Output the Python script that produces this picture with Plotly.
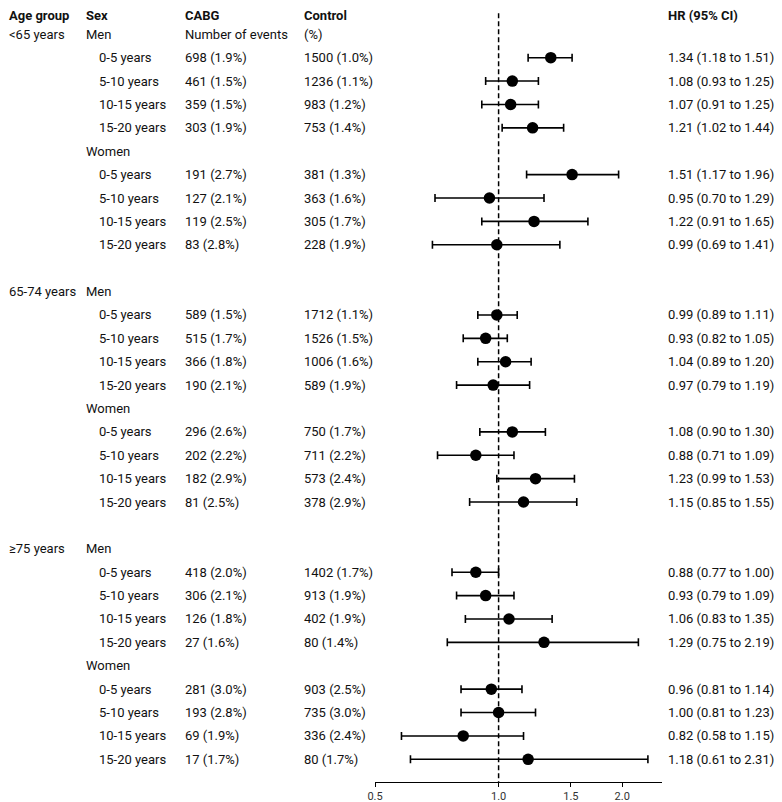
import plotly.graph_objects as go
import numpy as np

age_groups = ["<65 years", "65-74 years", "≥75 years"]
sexes = ["Men", "Women"]
periods = ["0-5 years", "5-10 years", "10-15 years", "15-20 years"]

cabg_events = [698, 461, 359, 303, 191, 127, 119, 83,
               589, 515, 366, 190, 296, 202, 182, 81,
               418, 306, 126, 27, 281, 193, 69, 17]
cabg_pct = [1.9, 1.5, 1.5, 1.9, 2.7, 2.1, 2.5, 2.8,
            1.5, 1.7, 1.8, 2.1, 2.6, 2.2, 2.9, 2.5,
            2.0, 2.1, 1.8, 1.6, 3.0, 2.8, 1.9, 1.7]
control_events = [1500, 1236, 983, 753, 381, 363, 305, 228,
                  1712, 1526, 1006, 589, 750, 711, 573, 378,
                  1402, 913, 402, 80, 903, 735, 336, 80]
control_pct = [1.0, 1.1, 1.2, 1.4, 1.3, 1.6, 1.7, 1.9,
               1.1, 1.5, 1.6, 1.9, 1.7, 2.2, 2.4, 2.9,
               1.7, 1.9, 1.9, 1.4, 2.5, 3.0, 2.4, 1.7]
hr = [1.34, 1.08, 1.07, 1.21, 1.51, 0.95, 1.22, 0.99,
      0.99, 0.93, 1.04, 0.97, 1.08, 0.88, 1.23, 1.15,
      0.88, 0.93, 1.06, 1.29, 0.96, 1.00, 0.82, 1.18]
hr_lo = [1.18, 0.93, 0.91, 1.02, 1.17, 0.70, 0.91, 0.69,
         0.89, 0.82, 0.89, 0.79, 0.90, 0.71, 0.99, 0.85,
         0.77, 0.79, 0.83, 0.75, 0.81, 0.81, 0.58, 0.61]
hr_hi = [1.51, 1.25, 1.25, 1.44, 1.96, 1.29, 1.65, 1.41,
         1.11, 1.05, 1.20, 1.19, 1.30, 1.09, 1.53, 1.55,
         1.00, 1.09, 1.35, 2.19, 1.14, 1.23, 1.15, 2.31]

headers = ["Age group", "Sex", "CABG", "Control", "HR (95% CI)"]
tick_vals = [0.5, 1.0, 1.5, 2.0]
tick_text = ["0.5", "1.0", "1.5", "2.0"]

# page has an 8px body margin, so figure coords = page coords - 8
W, H = 774, 794
FONT = "Roboto"
FS = 13
TXT = "#111111"

col_x = {"age": 0, "sex": 77, "period": 90, "cabg": 176, "control": 295, "hr": 659}
HEADER_ROW = 0.2

row_y = []
ann = []
def add(x, y, text, bold=False, size=FS):
    ann.append(dict(x=x / W, y=y, xref="paper", yref="y", text=f"<b>{text}</b>" if bold else text,
                    showarrow=False, xanchor="left", yanchor="middle", align="left",
                    font=dict(family=FONT, size=size, color=TXT), borderpad=0))

for i, h in enumerate(headers):
    key = ["age", "sex", "cabg", "control", "hr"][i]
    add(col_x[key], HEADER_ROW, h, bold=True)

k = 0
for g, age in enumerate(age_groups):
    base = 1 + 11 * g
    add(col_x["age"], base, age.replace("<", "&lt;"))
    for s, sex in enumerate(sexes):
        srow = base + 5 * s
        add(col_x["sex"], srow, sex)
        if g == 0 and s == 0:
            add(col_x["cabg"], srow, "Number of events")
            add(col_x["control"], srow, "(%)")
        for p, per in enumerate(periods):
            r = srow + 1 + p
            row_y.append(r)
            add(col_x["period"], r, per)
            add(col_x["cabg"], r, f"{cabg_events[k]} ({cabg_pct[k]:.1f}%)")
            add(col_x["control"], r, f"{control_events[k]} ({control_pct[k]:.1f}%)")
            add(col_x["hr"], r, f"{hr[k]:.2f} ({hr_lo[k]:.2f} to {hr_hi[k]:.2f})")
            k += 1

hr_a = np.array(hr)
err_plus = np.array(hr_hi) - hr_a
err_minus = hr_a - np.array(hr_lo)

fig = go.Figure()
fig.add_trace(go.Scatter(
    x=hr, y=row_y, mode="markers",
    marker=dict(color="black", size=11.5),
    error_x=dict(type="data", array=err_plus, arrayminus=err_minus, symmetric=False,
                 color="black", thickness=1.6, width=4),
    hoverinfo="skip", showlegend=False, cliponaxis=False,
))

y_top, y_bot = -0.124, 32.97
fig.add_shape(type="line", xref="x", yref="y", x0=1, x1=1, y0=0.1, y1=y_bot,
              line=dict(color="black", width=1.5, dash="5px,3px"), layer="below")

x_lo, x_hi = 0.5, 2.5
fig.update_layout(
    width=W, height=H, margin=dict(l=0, r=0, t=0, b=20),
    paper_bgcolor="white", plot_bgcolor="white",
    annotations=ann,
    xaxis=dict(type="log", range=[np.log10(x_lo), np.log10(x_hi)],
               domain=[367 / W, 654 / W],
               tickvals=tick_vals, ticktext=tick_text,
               showline=True, linecolor="black", linewidth=1.2,
               ticks="outside", ticklen=4, tickcolor="black", tickwidth=1.2,
               showgrid=False, zeroline=False, automargin=False,
               tickfont=dict(family=FONT, size=11, color="#333")),
    yaxis=dict(range=[y_bot, y_top], visible=False, showgrid=False, zeroline=False,
               automargin=False),
)
fig.write_html("out.html")
